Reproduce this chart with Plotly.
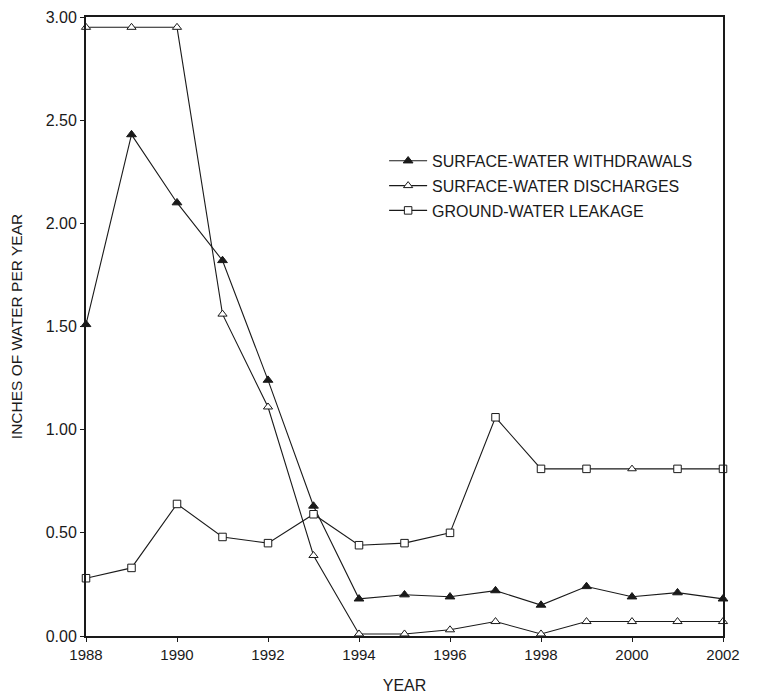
import plotly.graph_objects as go

years = list(range(1988, 2003))
withdrawals = [1.51, 2.43, 2.10, 1.82, 1.24, 0.63, 0.18, 0.20, 0.19, 0.22, 0.15, 0.24, 0.19, 0.21, 0.18]
discharges = [2.95, 2.95, 2.95, 1.56, 1.11, 0.39, 0.01, 0.01, 0.03, 0.07, 0.01, 0.07, 0.07, 0.07, 0.07]
leakage = [0.28, 0.33, 0.64, 0.48, 0.45, 0.59, 0.44, 0.45, 0.50, 1.06, 0.81, 0.81, 0.81, 0.81, 0.81]
y_ticks = [0.0, 0.5, 1.0, 1.5, 2.0, 2.5, 3.0]
x_ticks = list(range(1988, 2003, 2))

ink = "#1a1a1a"
font = "Liberation Sans, Arial, sans-serif"

fig = go.Figure()
fig.add_trace(go.Scatter(
    x=years, y=withdrawals, mode="lines+markers", name="SURFACE-WATER WITHDRAWALS",
    legendgroup="a",
    line=dict(color=ink, width=1.1),
    marker=dict(symbol="triangle-up", size=8.5, color=ink, line=dict(color=ink, width=1)),
))
fig.add_trace(go.Scatter(
    x=years, y=discharges, mode="lines+markers", name="SURFACE-WATER DISCHARGES",
    legendgroup="b",
    line=dict(color=ink, width=1.1),
    marker=dict(symbol="triangle-up", size=8, color="white", line=dict(color=ink, width=1)),
))
leak_symbols = ["square"] * len(years)
leak_symbols[years.index(2000)] = "triangle-up"
fig.add_trace(go.Scatter(
    x=years, y=leakage, mode="lines+markers", name="GROUND-WATER LEAKAGE",
    legendgroup="c",
    line=dict(color=ink, width=1.1),
    marker=dict(symbol=leak_symbols, size=7.5, color="white", line=dict(color=ink, width=1)),
))

# page body has an 8px default margin: figure is sized/offset to fill the 757x694 window
fig.update_layout(
    width=749, height=686,
    margin=dict(l=78, r=34, t=9, b=58, autoexpand=False),
    paper_bgcolor="white", plot_bgcolor="white",
    font=dict(family=font, size=15, color=ink),
    showlegend=True,
    legend=dict(x=0.468, y=0.795, xanchor="left", yanchor="top",
                font=dict(family=font, size=16, color=ink),
                bgcolor="rgba(0,0,0,0)", itemwidth=38, tracegroupgap=1),
    xaxis=dict(range=[1988, 2002], tickvals=x_ticks, ticktext=[str(v) for v in x_ticks],
               showgrid=False, zeroline=False, showline=True, linecolor=ink, linewidth=2,
               mirror=True, ticks="outside", ticklen=4, tickcolor=ink, automargin=False,
               tickfont=dict(size=15),
               title=dict(text="YEAR", font=dict(size=16), standoff=18)),
    yaxis=dict(range=[0, 3], tickvals=y_ticks, ticktext=[f"{v:.2f}" for v in y_ticks],
               showgrid=False, zeroline=False, showline=True, linecolor=ink, linewidth=2,
               mirror=True, ticks="outside", ticklen=4, tickcolor=ink, automargin=False,
               tickfont=dict(size=16),
               title=dict(text="INCHES OF WATER PER YEAR", font=dict(size=15.5), standoff=22)),
)
for tr in fig.data:
    tr.cliponaxis = False

fig.write_html("out.html")
